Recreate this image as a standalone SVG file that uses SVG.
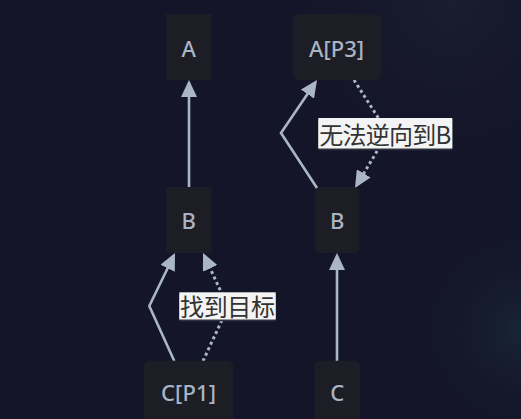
<svg xmlns="http://www.w3.org/2000/svg" width="521" height="419" viewBox="0 0 521 419">
<defs>
<radialGradient id="glowTR" cx="450" cy="0" r="200" gradientUnits="userSpaceOnUse">
<stop offset="0" stop-color="#1a1c30"/>
<stop offset="1" stop-color="#141529" stop-opacity="0"/>
</radialGradient>
<radialGradient id="glowBR" cx="521" cy="330" r="110" gradientUnits="userSpaceOnUse">
<stop offset="0" stop-color="#182535"/>
<stop offset="1" stop-color="#141529" stop-opacity="0"/>
</radialGradient>
<marker id="arrow" markerUnits="userSpaceOnUse" viewBox="0 0 17 16" markerWidth="17" markerHeight="16" refX="14" refY="8" orient="auto">
<path d="M0,0 L17,8 L0,16 z" fill="#aab6c6"/>
</marker>
<filter id="shadow" x="-10%" y="-10%" width="120%" height="140%">
<feDropShadow dx="0" dy="2" stdDeviation="0.5" flood-color="#2c2d40" flood-opacity="1"/>
</filter>
</defs>
<style>
.node rect { fill: #1d1d25; }
.node text { font-family: "Noto Sans", "Open Sans", sans-serif; font-size: 22px; font-weight: 500; fill: #a9b4c4; text-anchor: middle; }
.edge { fill: none; stroke: #aab6c6; stroke-width: 2.6; marker-end: url(#arrow); }
.dotted { stroke-width: 3; stroke-dasharray: 3 3; }
.label rect { fill: #f4f4f4; }
.label text { font-family: "Noto Sans CJK SC", "Noto Sans", sans-serif; font-size: 24px; fill: #333333; text-anchor: middle; dominant-baseline: central; }
</style>
<rect x="0" y="0" width="521" height="419" fill="#141529"/>
<rect x="0" y="0" width="521" height="419" fill="url(#glowTR)"/>
<rect x="0" y="0" width="521" height="419" fill="url(#glowBR)"/>

<g id="connectors">
<path class="edge" d="M189,187 L189,83"/>
<path class="edge" d="M317,188 L281,133 L315.3,82.5"/>
<path class="edge dotted" d="M354,80 L388,133 L356.5,185.4"/>
<path class="edge" d="M174.3,361 L149.3,306 L173.7,255.7"/>
<path class="edge dotted" d="M203,361 L228,307 L204.3,255.7"/>
<path class="edge" d="M337,361 L337,256"/>
</g>

<g id="node-A1" class="node">
<rect x="166" y="14" width="45.5" height="66"/>
<text x="188.7" y="57">A</text>
</g>
<g id="node-A3" class="node">
<rect x="292.7" y="14" width="88.6" height="66" rx="6"/>
<text x="336.5" y="57" textLength="55" lengthAdjust="spacing">A[P3]</text>
</g>
<g id="node-B1" class="node">
<rect x="166" y="187" width="45.5" height="66"/>
<text x="188.7" y="228.5">B</text>
</g>
<g id="node-B2" class="node">
<rect x="314.7" y="187" width="45" height="66" rx="6"/>
<text x="337.2" y="228.5">B</text>
</g>
<g id="node-C1" class="node">
<rect x="144" y="360.7" width="89.3" height="72" rx="6"/>
<text x="188.5" y="401" textLength="55" lengthAdjust="spacing">C[P1]</text>
</g>
<g id="node-C2" class="node">
<rect x="314.3" y="360.7" width="45.7" height="72" rx="6"/>
<text x="337.2" y="401">C</text>
</g>

<g id="label-1" class="label">
<rect x="318.3" y="118" width="134" height="30.3" filter="url(#shadow)"/>
<text x="385.3" y="133" textLength="132" lengthAdjust="spacing">无法逆向到B</text>
</g>
<g id="label-2" class="label">
<rect x="179.3" y="292.3" width="96.4" height="27" filter="url(#shadow)"/>
<text x="227.5" y="305.8" textLength="95" lengthAdjust="spacing">找到目标</text>
</g>
</svg>
